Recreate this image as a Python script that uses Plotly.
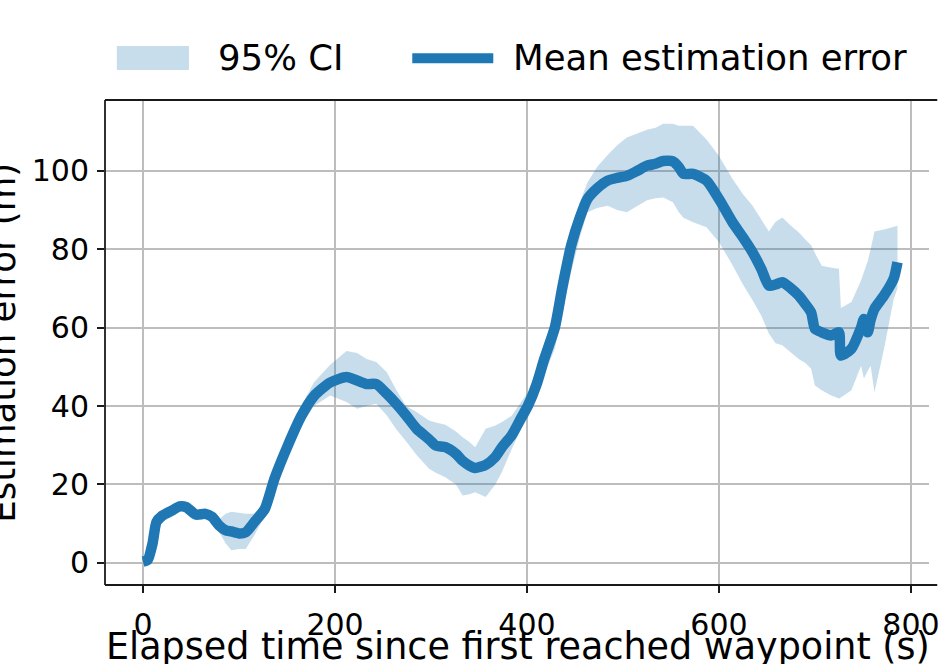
import plotly.graph_objects as go

# ---- data ----
time_s = [0, 5, 10, 14, 20, 30, 38, 45, 55, 65, 72, 79, 86, 92, 100, 107, 116, 127, 137, 151,
          165, 178, 195, 212, 223, 233, 243, 254, 264, 274, 285, 298, 305, 315, 326, 333, 340,
          346, 357, 367, 374, 384, 394, 401, 410, 418, 429, 437, 446, 455, 463, 473, 484, 494,
          504, 515, 525, 534, 542, 552, 558, 563, 573, 587, 600, 614, 625, 635, 644, 652, 659,
          666, 675, 683, 690, 696, 700, 707, 717, 725, 727, 738, 748, 751, 755, 758, 762, 772,
          782, 786]

mean_err = [0.3, 0.8, 5, 10.4, 12, 13.3, 14.4, 14.2, 12.3, 12.5, 11.7, 9.6, 8.3, 8.0, 7.5, 7.8,
            10.4, 13.8, 21.5, 30, 37.5, 42.5, 46, 47.4, 46.5, 45.6, 45.6, 43.1, 40.5, 37.6, 34.2,
            31.5, 29.9, 29.5, 27.8, 26, 24.8, 24.2, 25, 27, 29.5, 32.5, 37, 40.1, 45.5, 52, 60,
            70.5, 80.9, 88, 92.8, 95.5, 97.5, 98.2, 98.7, 100, 101.3, 101.8, 102.5, 102.4, 101,
            99.2, 99.2, 97.5, 92.8, 86.9, 83, 79.2, 75, 70.7, 71, 71.6, 70, 68.2, 66, 63.9, 59.7,
            58.8, 58, 58.8, 52.9, 54.6, 60, 62.2, 58.8, 62, 64.8, 68.2, 72.5, 76.7]

ci_lower = [-0.3, 0, 4, 9.5, 11, 12.4, 13.5, 13.3, 11.4, 11.6, 10.8, 8, 5, 3.2, 3.5, 3.5, 7, 12,
            20, 28, 35, 40, 42.7, 41, 39.3, 40, 40.6, 37.6, 34, 31, 27.5, 24, 23, 21.8, 20, 17.2,
            17.5, 18, 16.8, 20, 23.2, 29, 34.2, 37, 42, 48, 54.6, 64, 74.1, 83, 89.4, 90.5, 91.1,
            90, 89.4, 91, 92.5, 93, 93.2, 92, 89.5, 88, 86.9, 85.6, 81.8, 76, 71, 67, 63.1, 58.5,
            56, 55.5, 53.7, 52, 51, 49.5, 45.2, 44, 42.7, 41.9, 42.2, 44, 50.3, 47, 49, 50.3,
            43.5, 54.6, 67.3, 70]

ci_upper = [0.8, 1.5, 6, 11.3, 13, 14.3, 15.3, 15.1, 13.2, 13.4, 12.6, 11, 12.5, 13, 12.8, 12.5,
            12.5, 15.5, 23, 32, 40, 46, 50.5, 54, 53.5, 52, 51.2, 48.6, 44, 40, 38.5, 36.3, 35.8,
            35.2, 33.5, 32, 30.8, 29.5, 34.2, 35, 35.9, 37.5, 41, 43.5, 49.5, 56, 64, 75, 85, 92,
            97, 101, 104, 106.5, 108.5, 109.5, 110.5, 111, 112, 112, 111.5, 111.5, 111.5, 108,
            103.8, 98, 94, 91.1, 87.5, 84.5, 87, 88.1, 86, 84.3, 82.5, 81, 79, 75.8, 75.3, 75,
            65, 66.5, 72, 74.1, 77, 80, 84.5, 85, 85.6, 86]

x_ticks = [0, 200, 400, 600, 800]
y_ticks = [0, 20, 40, 60, 80, 100]

x_title = "Elapsed time since first reached waypoint (s)"
y_title = "Estimation error (m)"
ci_name = "95% CI"
mean_name = "Mean estimation error"

# ---- styling ----
BLUE = "#1f77b4"
BAND = "rgba(31,119,180,0.25)"
SPINE = "#1a1a1a"
FONT = "DejaVu Sans"
W, H = 941, 664
L, R, T, B = 105, 2, 100, 79
PW, PH = W - L - R, H - T - B


def px_x(p):
    return (p - L) / PW


def px_y(p):
    return (H - B - p) / PH


fig = go.Figure()
fig.add_trace(go.Scatter(x=time_s, y=ci_lower, mode="lines", line=dict(width=0, color=BAND),
                         showlegend=False, hoverinfo="skip"))
fig.add_trace(go.Scatter(x=time_s, y=ci_upper, mode="lines", line=dict(width=0, color=BAND),
                         fill="tonexty", fillcolor=BAND, name=ci_name, showlegend=False))
fig.add_trace(go.Scatter(x=time_s, y=mean_err, mode="lines",
                         line=dict(width=10.5, color=BLUE, shape="spline", smoothing=0.6),
                         name=mean_name, showlegend=False))

axis_common = dict(
    showgrid=True, gridcolor="#bdbdbd", gridwidth=1.6,
    zeroline=False, showline=False, mirror=False,
    ticks="outside", ticklen=7, tickwidth=1.6, tickcolor=SPINE,
    tickfont=dict(family=FONT, size=30, color="black"),
    ticklabeloverflow="allow",
)

fig.update_xaxes(range=[-39.6, 818.8], tickvals=x_ticks, ticklabelstandoff=6, **axis_common)
fig.update_yaxes(range=[-5.66, 118.06], tickvals=y_ticks, ticklabelstandoff=2, **axis_common)

spine = dict(color=SPINE, width=1.8)
shapes = [
    # axes frame (left, bottom, top; the right side lies beyond the picture)
    dict(type="line", xref="paper", yref="paper", x0=0, x1=0, y0=0, y1=1, line=spine, layer="above"),
    dict(type="line", xref="paper", yref="paper", x0=0, x1=1.01, y0=0, y1=0, line=spine, layer="above"),
    dict(type="line", xref="paper", yref="paper", x0=0, x1=1.01, y0=1, y1=1, line=spine, layer="above"),
    # manual legend (matplotlib style, wide handles)
    dict(type="rect", xref="paper", yref="paper", x0=px_x(117), x1=px_x(190),
         y0=px_y(70), y1=px_y(46), fillcolor=BAND, line=dict(width=0)),
    dict(type="line", xref="paper", yref="paper", x0=px_x(416), x1=px_x(498),
         y0=px_y(58.3), y1=px_y(58.3), line=dict(color=BLUE, width=10)),
]
annotations = [
    dict(text=ci_name, xref="paper", yref="paper", x=px_x(217), y=px_y(57.5),
         xanchor="left", yanchor="middle", showarrow=False,
         font=dict(family=FONT, size=35.5, color="black")),
    dict(text=mean_name, xref="paper", yref="paper", x=px_x(516), y=px_y(57.5),
         xanchor="left", yanchor="middle", showarrow=False,
         font=dict(family=FONT, size=35.5, color="black")),
    dict(text=x_title, xref="paper", yref="paper", x=px_x(523), y=px_y(646),
         xanchor="center", yanchor="middle", showarrow=False,
         font=dict(family=FONT, size=36.5, color="black")),
    dict(text=y_title, xref="paper", yref="paper", x=px_x(1), y=px_y(342.5),
         xanchor="center", yanchor="middle", showarrow=False, textangle=-90,
         font=dict(family=FONT, size=35.5, color="black")),
]

fig.update_layout(
    width=W, height=H,
    margin=dict(l=L, r=R, t=T, b=B, pad=0),
    paper_bgcolor="white", plot_bgcolor="white",
    showlegend=False,
    shapes=shapes, annotations=annotations,
    font=dict(family=FONT, color="black"),
)

fig.write_html("out.html")
